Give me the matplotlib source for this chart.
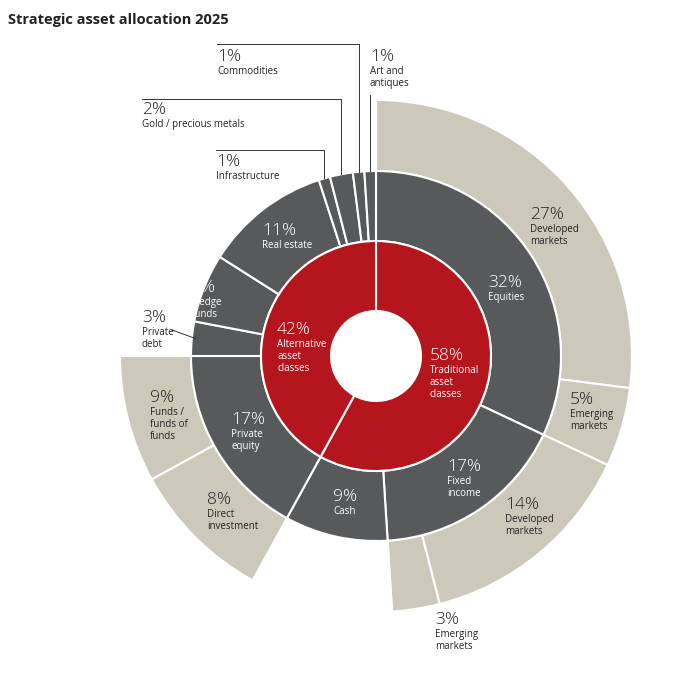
import numpy as np
import matplotlib.pyplot as plt

plt.rcParams['font.family'] = ['Open Sans', 'DejaVu Sans']

RED = '#b5151c'
DARK = '#58595a'
LIGHT = '#ccc9bb'
TXT = '#222222'

# --- data (percent) ---
inner_labels = ['Traditional\nasset\nclasses', 'Alternative\nasset\nclasses']
inner_vals = [58, 42]

mid_labels = ['Equities', 'Fixed\nincome', 'Cash', 'Private\nequity', 'Private\ndebt',
              'Hedge\nfunds', 'Real estate', 'Infrastructure', 'Gold / precious metals',
              'Commodities', 'Art and\nantiques']
mid_vals = [32, 17, 9, 17, 3, 6, 11, 1, 2, 1, 1]

outer_labels = ['Developed\nmarkets', 'Emerging\nmarkets', 'Developed\nmarkets', 'Emerging\nmarkets',
                None, 'Funds /\nfunds of\nfunds', 'Direct\ninvestment', None]
outer_vals = [27, 5, 14, 3, 9, 9, 8, 25]
outer_filled = [True, True, True, True, False, True, True, False]

W, H = 680, 674
CX, CY = 376, 356

fig = plt.figure(figsize=(6.8, 6.74), dpi=100)
ax = fig.add_axes([0, 0, 1, 1])

wp = dict(edgecolor='white', linewidth=1.5)
ax.pie(outer_vals, radius=256, center=(CX, H - CY), startangle=90, counterclock=False,
       colors=[LIGHT if f else 'none' for f in outer_filled],
       wedgeprops=dict(width=71, **wp))
ax.pie(mid_vals, radius=185, center=(CX, H - CY), startangle=90, counterclock=False,
       colors=[DARK] * len(mid_vals), wedgeprops=dict(width=70, **wp))
ax.pie(inner_vals, radius=115, center=(CX, H - CY), startangle=90, counterclock=False,
       colors=[RED, RED], wedgeprops=dict(width=70, **wp))
ax.set_xlim(0, W)
ax.set_ylim(0, H)
ax.set_aspect('auto')
ax.axis('off')


def lab(px, py, pct, text, color=TXT):
    ax.text(px, H - py, f'{pct}%', fontsize=12.5, color=color, va='center', ha='left',
            fontweight='light')
    ax.text(px, H - py - 9, text, fontsize=7, color=color, va='top', ha='left',
            linespacing=1.15)


ax.text(8, H - 20, 'Strategic asset allocation 2025', fontsize=10.5, fontweight='bold',
        color=TXT, va='center')

# inner ring
lab(430, 356, inner_vals[0], inner_labels[0], 'white')
lab(277, 330, inner_vals[1], inner_labels[1], 'white')

# middle ring
mid_pos = [(488, 283, 'white'), (447, 467, 'white'), (333, 497, 'white'), (231, 420, 'white'),
           (142, 318, TXT), (192, 288, 'white'), (262, 231, 'white'), (216, 162, TXT),
           (142, 110, TXT), (217, 57, TXT), (370, 57, TXT)]
for (px, py, c), v, t in zip(mid_pos, mid_vals, mid_labels):
    lab(px, py, v, t, c)

# outer ring
outer_pos = [(530, 215), (570, 400), (505, 505), (435, 620), None, (150, 398), (207, 500), None]
for p, v, t in zip(outer_pos, outer_vals, outer_labels):
    if p is not None:
        lab(p[0], p[1], v, t)

# leader lines for small slices
cum = np.cumsum([0] + mid_vals)


def edge_pt(i, r=185):
    ang = np.radians(90 - 3.6 * (cum[i] + mid_vals[i] / 2))
    return CX + r * np.cos(ang), CY - r * np.sin(ang)


lk = dict(color='#333333', linewidth=0.7)
for i, (x0, ytop) in {7: (216, 150), 8: (142, 99), 9: (217, 44)}.items():
    ex, ey = edge_pt(i)
    ax.plot([x0, ex, ex], [H - ytop, H - ytop, H - ey], **lk)
ex, ey = edge_pt(10)
ax.plot([ex, ex], [H - 95, H - ey], **lk)
ex, ey = edge_pt(4)
ax.plot([172, ex + 4], [H - 330, H - ey], **lk)

fig.savefig('out.png', dpi=100)
